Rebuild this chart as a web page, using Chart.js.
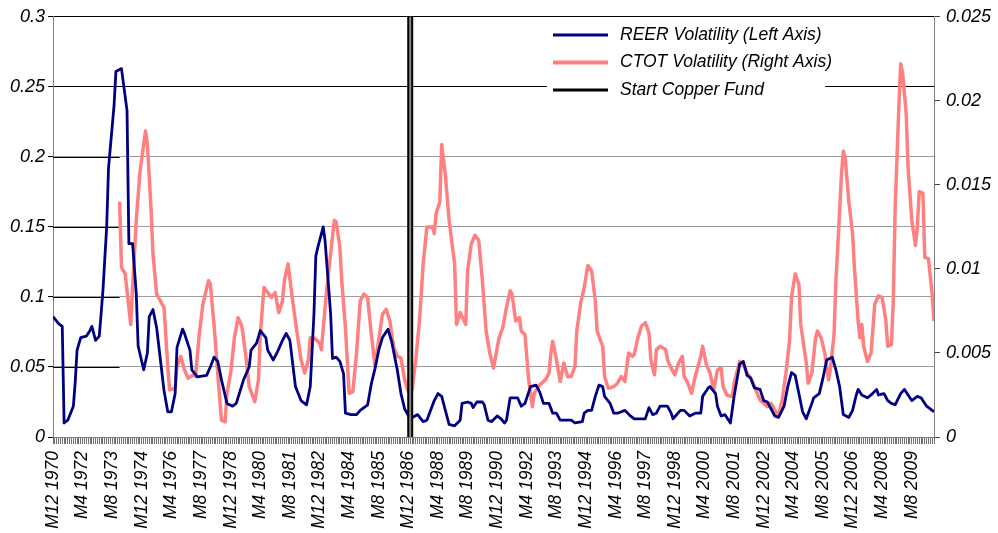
<!DOCTYPE html>
<html>
<head>
<meta charset="utf-8">
<script src="https://cdn.jsdelivr.net/npm/chart.js@4.4.1/dist/chart.umd.min.js"></script>
<style>
html, body { margin: 0; padding: 0; background: #fff; }
#wrap { width: 998px; height: 533px; position: relative; }
</style>
</head>
<body>
<div id="wrap"><canvas id="chart"></canvas></div>
<script>
// month index 0 = M12 1970, one step per month
const tickLabels = ['M12 1970','M4 1972','M8 1973','M12 1974','M4 1976','M8 1977','M12 1978','M4 1980',
  'M8 1981','M12 1982','M4 1984','M8 1985','M12 1986','M4 1988','M8 1989','M12 1990','M4 1992','M8 1993',
  'M12 1994','M4 1996','M8 1997','M12 1998','M4 2000','M8 2001','M12 2002','M4 2004','M8 2005','M12 2006',
  'M4 2008','M8 2009'];
const labelEvery = 16;
const lastMonth = 476;
const copperStart = 193;

// [month index, value]
const reerPoints = [[0,0.086],[3,0.081],[5,0.079],[6,0.010],[8,0.012],[11,0.022],[12,0.039],[13,0.062],
  [15,0.071],[18,0.072],[20,0.076],[21,0.079],[23,0.069],[25,0.072],[26,0.088],[27,0.105],[29,0.150],
  [30,0.192],[33,0.237],[34,0.261],[37,0.263],[40,0.233],[41,0.138],[43,0.138],[45,0.102],[46,0.065],
  [49,0.048],[51,0.060],[52,0.086],[54,0.091],[56,0.078],[60,0.033],[62,0.018],[64,0.018],[66,0.031],
  [67,0.064],[70,0.077],[71,0.074],[74,0.062],[75,0.048],[78,0.043],[83,0.044],[85,0.050],[87,0.057],
  [89,0.054],[91,0.041],[94,0.024],[97,0.022],[99,0.024],[103,0.041],[106,0.050],[107,0.062],[110,0.067],
  [112,0.076],[115,0.071],[116,0.062],[119,0.055],[121,0.060],[124,0.069],[126,0.074],[128,0.069],
  [131,0.036],[134,0.026],[137,0.023],[139,0.036],[141,0.088],[142,0.129],[143,0.135],[146,0.150],
  [147,0.140],[150,0.088],[151,0.056],[153,0.057],[155,0.054],[157,0.045],[158,0.017],[161,0.016],
  [164,0.016],[166,0.019],[170,0.023],[172,0.038],[174,0.049],[176,0.062],[178,0.071],[181,0.077],
  [183,0.068],[186,0.048],[188,0.031],[190,0.020],[193,0.013],[197,0.016],[200,0.011],[202,0.012],
  [206,0.026],[208,0.031],[210,0.029],[212,0.019],[214,0.009],[217,0.008],[220,0.012],[221,0.024],
  [224,0.025],[226,0.024],[227,0.021],[229,0.025],[232,0.025],[233,0.023],[235,0.012],[237,0.011],
  [240,0.015],[242,0.013],[244,0.010],[245,0.012],[247,0.028],[251,0.028],[253,0.022],[255,0.024],
  [258,0.036],[261,0.037],[263,0.032],[265,0.024],[268,0.024],[270,0.017],[272,0.017],[274,0.012],
  [280,0.012],[282,0.010],[286,0.011],[287,0.017],[289,0.019],[291,0.019],[293,0.029],[295,0.037],
  [297,0.036],[298,0.029],[301,0.024],[303,0.017],[305,0.017],[309,0.019],[312,0.015],[314,0.013],
  [320,0.013],[322,0.021],[324,0.016],[326,0.017],[328,0.022],[332,0.022],[334,0.017],[335,0.013],
  [339,0.019],[341,0.019],[344,0.015],[347,0.017],[350,0.017],[351,0.029],[354,0.035],[355,0.036],
  [358,0.031],[359,0.022],[361,0.015],[363,0.016],[365,0.012],[366,0.010],[368,0.029],[371,0.052],
  [373,0.054],[375,0.044],[377,0.042],[379,0.035],[382,0.034],[384,0.026],[386,0.025],[390,0.015],
  [392,0.014],[395,0.022],[397,0.036],[399,0.046],[401,0.044],[403,0.031],[405,0.018],[407,0.013],
  [410,0.024],[411,0.028],[414,0.031],[416,0.042],[418,0.055],[421,0.057],[423,0.048],[425,0.036],
  [427,0.016],[430,0.014],[432,0.019],[434,0.030],[435,0.034],[437,0.030],[440,0.028],[442,0.030],
  [445,0.034],[446,0.030],[449,0.031],[451,0.026],[453,0.024],[455,0.023],[458,0.031],[460,0.034],
  [462,0.030],[464,0.026],[467,0.029],[469,0.028],[472,0.022],[475,0.019],[476,0.018]];

const ctotPoints = [[36,0.0140],[37,0.0101],[39,0.0097],[42,0.0067],[43,0.0089],[45,0.0129],[47,0.0158],
  [50,0.0182],[51,0.0174],[53,0.0135],[54,0.0109],[56,0.0085],[60,0.0077],[62,0.0042],[63,0.0028],
  [66,0.0029],[67,0.0042],[69,0.0048],[71,0.0040],[73,0.0035],[76,0.0037],[77,0.0036],[79,0.0061],
  [81,0.0079],[84,0.0093],[85,0.0091],[87,0.0067],[89,0.0038],[91,0.0010],[93,0.0009],[94,0.0026],
  [96,0.0038],[98,0.0059],[100,0.0071],[102,0.0066],[104,0.0050],[106,0.0030],[109,0.0021],[111,0.0034],
  [112,0.0061],[114,0.0089],[116,0.0086],[118,0.0083],[120,0.0086],[122,0.0074],[124,0.0081],[125,0.0093],
  [127,0.0103],[129,0.0085],[132,0.0061],[134,0.0046],[136,0.0038],[138,0.0046],[139,0.0059],[141,0.0059],
  [144,0.0056],[145,0.0052],[148,0.0089],[150,0.0109],[152,0.0129],[153,0.0128],[155,0.0113],[156,0.0093],
  [158,0.0065],[160,0.0026],[162,0.0027],[164,0.0050],[166,0.0081],[168,0.0085],[170,0.0083],[172,0.0061],
  [174,0.0042],[176,0.0058],[178,0.0073],[180,0.0076],[182,0.0069],[184,0.0054],[186,0.0048],[188,0.0047],
  [190,0.0034],[192,0.0027],[194,0.0028],[196,0.0046],[198,0.0069],[200,0.0103],[202,0.0125],[205,0.0125],
  [206,0.0121],[207,0.0133],[209,0.0140],[210,0.0174],[212,0.0156],[214,0.0129],[217,0.0103],[218,0.0067],
  [220,0.0074],[223,0.0067],[224,0.0099],[226,0.0115],[228,0.0120],[230,0.0117],[232,0.0093],[234,0.0063],
  [236,0.0050],[238,0.0041],[241,0.0059],[243,0.0065],[245,0.0077],[247,0.0087],[248,0.0085],[250,0.0069],
  [252,0.0071],[253,0.0063],[255,0.0061],[257,0.0034],[259,0.0018],[260,0.0026],[263,0.0031],[266,0.0034],
  [268,0.0038],[269,0.0050],[270,0.0057],[272,0.0046],[274,0.0033],[276,0.0044],[278,0.0036],[280,0.0036],
  [282,0.0042],[283,0.0063],[285,0.0079],[287,0.0089],[289,0.0102],[291,0.0099],[293,0.0081],[294,0.0063],
  [297,0.0054],[298,0.0036],[300,0.0029],[303,0.0030],[305,0.0032],[307,0.0036],[309,0.0033],[311,0.0050],
  [313,0.0048],[314,0.0049],[316,0.0059],[318,0.0066],[320,0.0068],[322,0.0062],[323,0.0046],[325,0.0037],
  [326,0.0052],[328,0.0054],[331,0.0052],[332,0.0046],[334,0.0041],[336,0.0037],[338,0.0044],[340,0.0048],
  [341,0.0036],[343,0.0032],[345,0.0026],[347,0.0036],[350,0.0048],[351,0.0054],[353,0.0043],[355,0.0038],
  [357,0.0028],[359,0.0040],[361,0.0041],[362,0.0030],[364,0.0025],[367,0.0024],[368,0.0032],[371,0.0045],
  [373,0.0043],[375,0.0038],[377,0.0035],[379,0.0030],[382,0.0022],[384,0.0020],[386,0.0018],[388,0.0020],
  [391,0.0014],[392,0.0013],[394,0.0022],[396,0.0038],[398,0.0058],[399,0.0083],[401,0.0097],[403,0.0091],
  [404,0.0067],[407,0.0044],[408,0.0032],[410,0.0038],[412,0.0059],[413,0.0063],[415,0.0059],[417,0.0050],
  [419,0.0034],[420,0.0040],[422,0.0061],[423,0.0093],[424,0.0113],[426,0.0156],[427,0.0170],[428,0.0166],
  [430,0.0140],[432,0.0121],[433,0.0101],[435,0.0069],[436,0.0059],[437,0.0067],[438,0.0054],[440,0.0045],
  [442,0.0050],[444,0.0079],[446,0.0084],[448,0.0083],[450,0.0069],[451,0.0054],[453,0.0055],[454,0.0081],
  [455,0.0136],[457,0.0196],[458,0.0222],[459,0.0217],[461,0.0192],[462,0.0160],[464,0.0129],[466,0.0114],
  [467,0.0125],[468,0.0146],[470,0.0145],[471,0.0107],[473,0.0106],[475,0.0085],[476,0.0069]];

const toXY = (pts) => pts.map(([x, y]) => ({x, y}));
const fmt = (v) => String(parseFloat(v.toFixed(4)));
const fontFamily = "'Liberation Sans', Arial, sans-serif";

Chart.defaults.font.family = fontFamily;
Chart.defaults.font.size = 18;
Chart.defaults.font.style = 'italic';
Chart.defaults.color = '#000';

// black stub of the gridlines left of where CTOT starts, gray center of the fund line, legend box
const extras = {
  id: 'extras',
  beforeDatasetsDraw(chart) {
    const {ctx, chartArea, scales} = chart;
    const xEnd = scales.x.getPixelForValue(ctotPoints[0][0]);
    ctx.save();
    ctx.strokeStyle = '#000';
    ctx.lineWidth = 1;
    scales.y.ticks.forEach(t => {
      if (t.value > 0.01 && t.value < 0.24) {
        const y = Math.round(scales.y.getPixelForValue(t.value)) + 0.5;
        ctx.beginPath();
        ctx.moveTo(chartArea.left, y);
        ctx.lineTo(xEnd, y);
        ctx.stroke();
      }
    });
    ctx.restore();
  },
  afterDatasetsDraw(chart) {
    const {ctx} = chart;
    const pts = chart.getDatasetMeta(2).data;
    ctx.save();
    ctx.strokeStyle = '#8a8a8a';
    ctx.lineWidth = 2;
    ctx.beginPath();
    ctx.moveTo(pts[0].x, pts[0].y);
    ctx.lineTo(pts[1].x, pts[1].y);
    ctx.stroke();
    ctx.restore();
  },
  afterDraw(chart) {
    const {ctx} = chart;
    const bx = 547, by = 19;
    ctx.save();
    ctx.fillStyle = '#fff';
    ctx.fillRect(bx, by, 278, 84);
    ctx.font = 'italic 17.5px ' + fontFamily;
    ctx.textBaseline = 'middle';
    chart.data.datasets.forEach((ds, i) => {
      const y = by + 16 + i * 27.5;
      ctx.strokeStyle = ds.borderColor;
      ctx.lineWidth = i === 1 ? 4 : 3;
      ctx.beginPath();
      ctx.moveTo(bx + 6, y);
      ctx.lineTo(bx + 61, y);
      ctx.stroke();
      ctx.fillStyle = '#000';
      ctx.fillText(ds.label, bx + 73, y);
    });
    ctx.restore();
  }
};

new Chart(document.getElementById('chart'), {
  type: 'line',
  data: {
    datasets: [
      {
        label: 'REER Volatility (Left Axis)',
        data: toXY(reerPoints),
        yAxisID: 'y',
        borderColor: '#000080',
        borderWidth: 2.8,
        order: 1
      },
      {
        label: 'CTOT Volatility (Right Axis)',
        data: toXY(ctotPoints),
        yAxisID: 'y2',
        borderColor: '#ff8080',
        borderWidth: 3.5,
        order: 2
      },
      {
        label: 'Start Copper Fund',
        data: [{x: copperStart, y: 0}, {x: copperStart, y: 0.3}],
        yAxisID: 'y',
        borderColor: '#000',
        borderWidth: 6,
        order: 0
      }
    ]
  },
  options: {
    responsive: true,
    maintainAspectRatio: false,
    animation: false,
    devicePixelRatio: 1,
    layout: {padding: {top: 15, left: 0, right: 0, bottom: 0}},
    elements: {
      point: {radius: 0},
      line: {tension: 0, borderJoinStyle: 'round', borderCapStyle: 'butt'}
    },
    plugins: {
      legend: {display: false},
      tooltip: {enabled: false}
    },
    scales: {
      x: {
        type: 'linear',
        min: 0,
        max: lastMonth,
        afterFit: (s) => { s.height = 96; },
        border: {color: '#808080'},
        grid: {drawOnChartArea: false, tickLength: 7, color: '#707070'},
        ticks: {
          stepSize: 1,
          autoSkip: false,
          minRotation: 90,
          maxRotation: 90,
          padding: 7,
          font: {size: 17.5},
          callback: (v) => (v % labelEvery === 0 ? (tickLabels[v / labelEvery] || '') : '')
        }
      },
      y: {
        position: 'left',
        min: 0,
        max: 0.3,
        afterFit: (s) => { s.width = 53; },
        border: {color: '#808080'},
        grid: {
          color: (c) => (c.tick && c.tick.value > 0.24 ? '#000' : '#9c9c9c'),
          tickColor: '#000',
          tickLength: 5
        },
        ticks: {stepSize: 0.05, padding: 3, callback: fmt}
      },
      y2: {
        position: 'right',
        min: 0,
        max: 0.025,
        afterFit: (s) => { s.width = 64; },
        border: {color: '#808080'},
        grid: {drawOnChartArea: false, tickColor: '#404040', tickLength: 6},
        ticks: {stepSize: 0.005, padding: 6, callback: fmt}
      }
    }
  },
  plugins: [extras]
});
</script>
</body>
</html>
